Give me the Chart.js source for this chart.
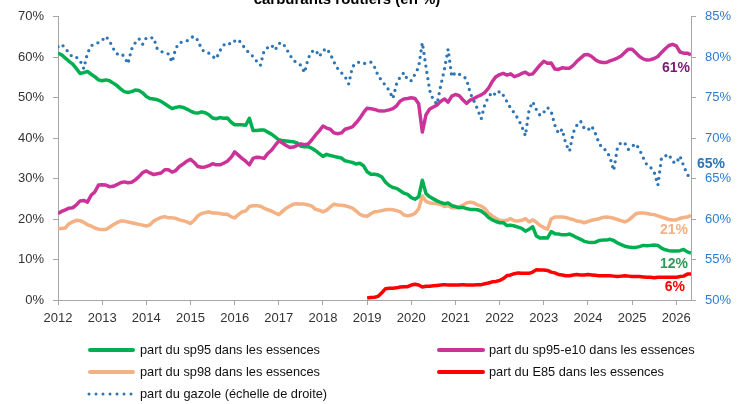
<!DOCTYPE html>
<html>
<head>
<meta charset="utf-8">
<script src="https://cdn.jsdelivr.net/npm/chart.js@4/dist/chart.umd.min.js"></script>
<style>
  html, body { margin:0; padding:0; background:#fff; }
  #wrap { position:relative; width:745px; height:404px; overflow:hidden; font-family:"Liberation Sans", Arial, sans-serif; }
  #c { position:absolute; left:0; top:0; }
  .lg { position:absolute; font-size:12.8px; color:#111; line-height:16px; white-space:nowrap; }
  .sw { position:absolute; height:4px; border-radius:2px; }
</style>
</head>
<body>
<div id="wrap">
  <canvas id="c" width="745" height="404"></canvas>
  <div class="sw" style="left:88px;top:348px;width:47px;background:#00B050"></div>
  <div class="lg" style="left:140px;top:342px">part du sp95 dans les essences</div>
  <div class="sw" style="left:437px;top:348px;width:48px;background:#CC3399"></div>
  <div class="lg" style="left:489px;top:342px">part du sp95-e10 dans les essences</div>
  <div class="sw" style="left:88px;top:370px;width:47px;background:#F4B183"></div>
  <div class="lg" style="left:140px;top:364px">part du sp98 dans les essences</div>
  <div class="sw" style="left:437px;top:370px;width:48px;background:#FF0000"></div>
  <div class="lg" style="left:489px;top:364px">part du E85 dans les essences</div>
  <svg style="position:absolute;left:86px;top:390px" width="52" height="8"><line x1="3" y1="4" x2="49" y2="4" stroke="#2E75B6" stroke-width="3" stroke-linecap="round" stroke-dasharray="0 7"/></svg>
  <div class="lg" style="left:140px;top:386px">part du gazole (échelle de droite)</div>
</div>
<script>
// ---- data (monthly, January 2012 to May 2026) ----
const startYear = 2012;
const yearTicks = [2012,2013,2014,2015,2016,2017,2018,2019,2020,2021,2022,2023,2024,2025,2026];
const leftTicks = [0,10,20,30,40,50,60,70];
const rightTicks = [50,55,60,65,70,75,80,85];

const sp95 = [
61.0,60.6,59.8,59.0,58.3,57.2,56.0,56.2,56.5,55.8,55.2,54.4,
54.2,54.4,54.2,53.6,53.0,52.2,51.5,51.3,51.5,51.9,51.8,51.2,
50.3,49.8,49.7,49.5,49.1,48.5,47.9,47.3,47.6,47.8,47.6,47.2,
46.7,46.3,46.2,46.5,46.3,45.8,45.0,44.8,45.1,44.9,45.0,44.0,
43.3,43.3,43.3,43.2,44.9,41.9,41.9,42.0,42.0,41.5,41.0,40.3,
39.6,39.4,39.3,39.2,39.1,38.8,38.0,37.9,37.9,37.5,36.9,36.2,
35.5,36.0,35.7,35.5,35.3,35.1,34.4,34.2,34.0,33.6,33.8,33.2,
31.7,31.1,31.1,30.9,30.4,29.1,28.3,27.8,27.6,27.0,26.4,26.1,
25.3,24.9,25.5,29.6,26.3,25.5,25.0,24.5,24.1,23.8,24.0,23.3,
23.1,22.8,22.9,22.6,22.4,22.4,22.3,22.0,21.3,20.4,19.8,19.4,
19.1,19.1,18.4,18.5,18.3,18.0,17.7,17.0,17.5,18.1,15.8,15.3,
15.4,15.3,16.9,16.4,16.3,16.1,16.1,16.3,15.9,15.4,15.0,14.5,
14.3,14.2,14.3,14.7,14.8,14.8,15.0,14.7,14.1,13.7,13.3,13.1,
13.0,13.0,13.2,13.5,13.4,13.5,13.6,13.5,12.8,12.4,12.2,12.1,
12.1,12.2,12.5,11.9,11.6];

const sp95e10 = [
21.4,21.9,22.3,22.7,22.8,23.5,24.5,24.6,24.2,25.9,26.7,28.4,
28.5,28.4,28.0,28.1,28.5,29.0,29.2,29.0,29.1,29.7,30.5,31.5,
31.9,31.4,31.0,31.2,31.4,32.2,32.2,31.6,32.0,33.0,33.6,34.3,
34.8,34.0,33.0,32.8,32.9,33.2,33.7,33.4,33.4,33.8,34.3,35.2,
36.6,35.8,35.0,34.3,33.4,35.0,35.3,35.2,35.0,36.2,37.0,38.2,
39.3,38.8,38.2,37.7,37.8,38.2,38.6,38.4,38.6,39.6,40.8,41.8,
43.0,42.5,42.2,41.3,41.1,41.3,42.2,42.5,42.8,43.8,44.9,46.3,
47.4,47.3,47.1,46.8,46.7,46.8,47.0,47.3,48.0,49.2,49.7,49.8,
50.0,49.8,48.5,41.5,45.8,47.2,47.7,48.2,49.1,49.7,48.9,50.4,
50.8,50.5,49.5,48.6,49.4,49.8,50.3,50.7,51.3,52.4,54.0,55.2,
55.7,56.0,55.6,55.9,55.2,55.5,56.0,56.3,55.7,55.9,57.0,58.1,
59.0,58.5,58.6,57.1,57.0,57.4,57.3,57.3,58.0,59.0,59.8,60.6,
60.7,60.2,59.4,58.9,58.7,58.7,59.1,59.4,59.8,60.3,61.2,62.0,
62.0,61.1,60.2,59.6,59.3,59.4,59.7,60.2,61.2,62.1,62.9,63.2,
62.8,61.3,61.0,61.0,60.6];

const sp98 = [
17.7,17.7,17.8,18.9,19.3,19.7,19.6,19.2,18.6,18.3,17.8,17.5,
17.4,17.4,18.0,18.6,19.1,19.5,19.5,19.3,19.1,18.9,18.7,18.5,
18.3,18.6,19.5,20.0,20.4,20.6,20.3,20.3,20.2,19.8,19.6,19.3,
18.9,19.7,20.8,21.4,21.6,21.8,21.5,21.5,21.4,21.2,21.2,20.6,
20.3,21.1,21.8,22.0,23.1,23.3,23.3,23.2,22.7,22.3,22.0,21.5,
21.1,21.9,22.7,23.2,23.7,23.8,23.7,23.7,23.5,23.2,22.4,22.2,
21.8,22.2,23.0,23.7,23.5,23.4,23.3,23.0,22.7,22.0,21.2,20.8,
20.7,21.3,21.8,21.9,22.1,22.3,22.4,22.3,22.1,21.8,21.0,20.8,
21.0,21.4,22.5,25.7,24.4,24.0,23.9,23.8,23.6,23.1,23.3,22.8,
22.8,23.0,23.4,24.0,24.2,24.0,23.5,23.2,22.6,21.5,20.8,20.2,
19.7,19.6,19.7,20.1,19.6,19.5,19.7,20.1,19.3,19.8,19.2,18.4,
17.9,17.5,20.0,20.5,20.5,20.5,20.4,20.1,19.9,19.5,19.4,19.1,
19.4,19.7,19.9,20.1,20.4,20.5,20.4,20.2,19.9,19.6,19.3,19.7,
20.5,21.3,21.5,21.5,21.4,21.2,21.1,20.8,20.5,20.2,19.9,19.8,
19.8,20.2,20.4,20.5,20.9];

// E85 starts in January 2019
const e85StartYear = 2019;
const e85 = [
0.5,0.6,0.7,0.9,1.8,2.8,2.9,2.9,3.0,3.2,3.3,3.3,
3.7,3.9,3.7,3.2,3.4,3.4,3.5,3.6,3.7,3.8,3.7,3.7,
3.7,3.7,3.8,3.7,3.7,3.7,3.8,3.8,4.0,4.2,4.5,4.6,
4.8,5.3,6.0,6.2,6.5,6.7,6.6,6.6,6.6,6.9,7.5,7.4,
7.4,7.3,6.9,6.7,6.3,6.2,6.0,6.0,6.2,6.3,6.2,6.2,
6.3,6.2,6.1,6.0,6.0,6.0,6.0,5.9,5.8,5.9,6.0,5.9,
5.8,5.8,5.8,5.7,5.6,5.6,5.5,5.6,5.6,5.6,5.6,5.6,
5.6,5.8,5.9,6.4,6.4];

const gazole = [
81.3,81.6,81.1,80.5,80.0,80.0,79.6,78.6,80.5,81.4,81.7,81.8,
82.1,82.6,82.0,81.1,80.4,80.5,80.1,79.2,81.0,81.8,82.3,81.6,
82.4,82.4,82.4,81.0,80.7,80.6,80.4,79.4,81.1,81.8,81.9,82.0,
82.4,82.6,82.1,81.0,80.6,80.5,80.1,79.8,80.8,81.5,81.8,81.6,
82.0,82.2,81.6,81.0,80.5,80.1,79.5,79.0,80.8,81.2,81.5,80.9,
81.7,81.8,81.1,80.3,79.6,79.3,79.0,78.1,79.9,80.7,80.9,80.1,
80.8,81.1,80.4,79.4,78.6,78.1,77.6,76.7,78.8,79.3,79.4,79.2,
79.3,79.4,78.8,77.7,77.1,76.5,75.9,74.9,76.7,77.6,78.1,77.2,
77.1,77.9,78.8,81.8,78.8,75.9,74.7,74.2,76.5,78.5,81.0,77.6,
78.1,77.9,77.7,77.3,75.6,74.6,73.6,72.4,74.2,75.1,75.7,75.3,
75.8,75.3,74.5,73.7,73.1,72.4,71.5,70.3,73.5,74.5,73.5,72.8,
73.2,73.8,73.3,71.6,70.6,71.1,69.3,68.4,70.7,71.6,72.1,71.2,
71.0,71.5,70.6,69.4,68.7,68.5,67.6,66.0,68.8,69.5,69.4,68.6,
69.0,69.3,68.6,67.6,66.7,66.4,65.8,64.2,67.6,67.8,68.0,67.1,
66.9,67.8,66.6,65.5,65.0];

const endLabels = ['12%','61%','21%','6%','65%'];
const titleText = 'carburants routiers (en %)';

// ---- build ----
const toPts = (arr, y0) => arr.map((v, i) => ({ x: y0 + i / 12, y: v }));
const lastX = startYear + (sp95.length - 1) / 12;

const endLabelPlugin = {
  id: 'endLabels',
  afterDatasetsDraw(chart) {
    const ctx = chart.ctx;
    const cfg = [
      { ds: 0, color: '#2E9A57', dy: 11, align: 'right', dx: -3 },
      { ds: 1, color: '#7A1A78', dy: 13, align: 'right', dx: -1 },
      { ds: 2, color: '#F4B183', dy: 15, align: 'right', dx: -3 },
      { ds: 3, color: '#FF0000', dy: 13, align: 'right', dx: -6 },
      { ds: 4, color: '#2E75B6', dy: -14, align: 'left', dx: 6 }
    ];
    ctx.save();
    ctx.font = 'bold 14px "Liberation Sans", Arial, sans-serif';
    ctx.textBaseline = 'middle';
    cfg.forEach(c => {
      const meta = chart.getDatasetMeta(c.ds);
      const p = meta.data[meta.data.length - 1];
      ctx.fillStyle = c.color;
      ctx.textAlign = c.align;
      ctx.fillText(endLabels[c.ds], p.x + c.dx, p.y + c.dy);
    });
    ctx.restore();
  }
};

const titlePlugin = {
  id: 'topTitle',
  afterDraw(chart) {
    const ctx = chart.ctx;
    ctx.save();
    ctx.font = 'bold 15px "Liberation Sans", Arial, sans-serif';
    ctx.fillStyle = '#000';
    ctx.textAlign = 'center';
    ctx.textBaseline = 'alphabetic';
    ctx.fillText(titleText, 347, 4);
    ctx.restore();
  }
};

const axisGrey = '#A6A6A6';
const tickFont = { family: '"Liberation Sans", Arial, sans-serif', size: 13 };

new Chart(document.getElementById('c'), {
  type: 'line',
  data: {
    datasets: [
      { label: 'part du sp95 dans les essences', data: toPts(sp95, startYear), borderColor: '#00B050', borderWidth: 3.5, yAxisID: 'y', order: 3 },
      { label: 'part du sp95-e10 dans les essences', data: toPts(sp95e10, startYear), borderColor: '#CC3399', borderWidth: 3.5, yAxisID: 'y', order: 2 },
      { label: 'part du sp98 dans les essences', data: toPts(sp98, startYear), borderColor: '#F4B183', borderWidth: 3.5, yAxisID: 'y', order: 4 },
      { label: 'part du E85 dans les essences', data: toPts(e85, e85StartYear), borderColor: '#FF0000', borderWidth: 3.5, yAxisID: 'y', order: 5 },
      { label: 'part du gazole (échelle de droite)', data: toPts(gazole, startYear), borderColor: '#2E75B6', borderWidth: 3.3, borderDash: [0, 6.4], borderCapStyle: 'round', yAxisID: 'y2', order: 1 }
    ]
  },
  options: {
    responsive: false,
    animation: false,
    devicePixelRatio: 1,
    layout: { padding: { top: 16, left: 0, right: 0, bottom: 0 } },
    elements: { point: { radius: 0 }, line: { tension: 0, borderJoinStyle: 'round', fill: false } },
    plugins: { legend: { display: false }, tooltip: { enabled: false }, title: { display: false } },
    scales: {
      x: {
        type: 'linear', min: startYear, max: lastX,
        afterBuildTicks: (s) => { s.ticks = yearTicks.map(v => ({ value: v })); },
        afterFit: (s) => { s.height = 104; },
        ticks: { color: '#333', font: tickFont, maxRotation: 0, autoSkip: false, padding: 6, callback: (v) => String(v) },
        grid: { drawOnChartArea: false, drawTicks: true, tickLength: 5, color: axisGrey },
        border: { color: axisGrey, width: 1 }
      },
      y: {
        position: 'left', min: 0, max: 70,
        afterBuildTicks: (s) => { s.ticks = leftTicks.map(v => ({ value: v })); },
        afterFit: (s) => { s.width = 58; },
        ticks: { color: '#333', font: tickFont, padding: 9, callback: (v) => v + '%' },
        grid: { drawOnChartArea: false, drawTicks: true, tickLength: 5, color: axisGrey },
        border: { color: axisGrey, width: 1 }
      },
      y2: {
        position: 'right', min: 50, max: 85,
        afterBuildTicks: (s) => { s.ticks = rightTicks.map(v => ({ value: v })); },
        afterFit: (s) => { s.width = 54; },
        ticks: { color: '#2E7BCF', font: tickFont, padding: 9, callback: (v) => v + '%' },
        grid: { drawOnChartArea: false, drawTicks: true, tickLength: 5, color: axisGrey },
        border: { color: axisGrey, width: 1 }
      }
    }
  },
  plugins: [endLabelPlugin, titlePlugin]
});
</script>
</body>
</html>
